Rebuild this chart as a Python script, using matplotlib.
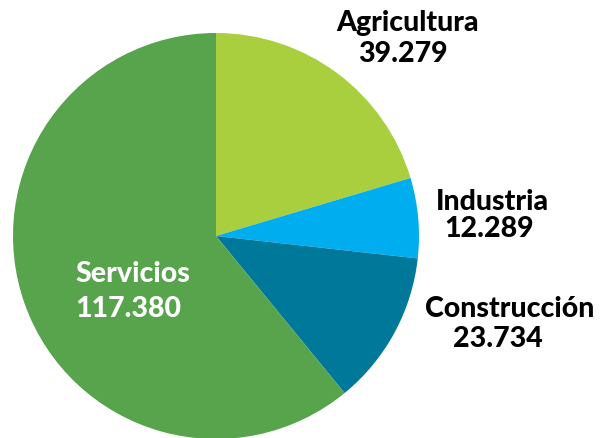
import matplotlib.pyplot as plt

# empleo por sector (valores en miles, formato con punto)
sectors = ["Agricultura", "Industria", "Construcción", "Servicios"]
values = [39279, 12289, 23734, 117380]
colors = ["#a9cf3f", "#00aeef", "#00789a", "#57a44c"]

W, H = 601, 438


def fmt(v):
    return f"{v:,}".replace(",", ".")


fig = plt.figure(figsize=(W / 100, H / 100), dpi=100)
ax = fig.add_axes([0, 0, 1, 1])

ax.pie(values, colors=colors, startangle=90, counterclock=False,
       center=(216, H - 236), radius=203, frame=True,
       wedgeprops=dict(linewidth=0))

ax.set_xlim(0, W)
ax.set_ylim(0, H)
ax.set_aspect("equal")
ax.axis("off")

font = dict(family="Lato", fontweight="black", fontsize=20.5)

# etiquetas a la derecha (pixel coords, baseline)
label_pos = {
    "Agricultura": ((408, 31), (403, 62)),
    "Industria": ((492, 210), (489, 237)),
    "Construcción": ((510, 317), (498, 347)),
}
for name, val in zip(sectors, values):
    if name in label_pos:
        (x1, y1), (x2, y2) = label_pos[name]
        ax.text(x1, H - y1, name, ha="center", va="baseline", color="black", **font)
        ax.text(x2, H - y2, fmt(val), ha="center", va="baseline", color="black", **font)

ax.text(75, H - 282, sectors[3], ha="left", va="baseline", color="white", **font)
ax.text(75, H - 317, fmt(values[3]), ha="left", va="baseline", color="white", **font)

fig.savefig("out.png", dpi=100)
